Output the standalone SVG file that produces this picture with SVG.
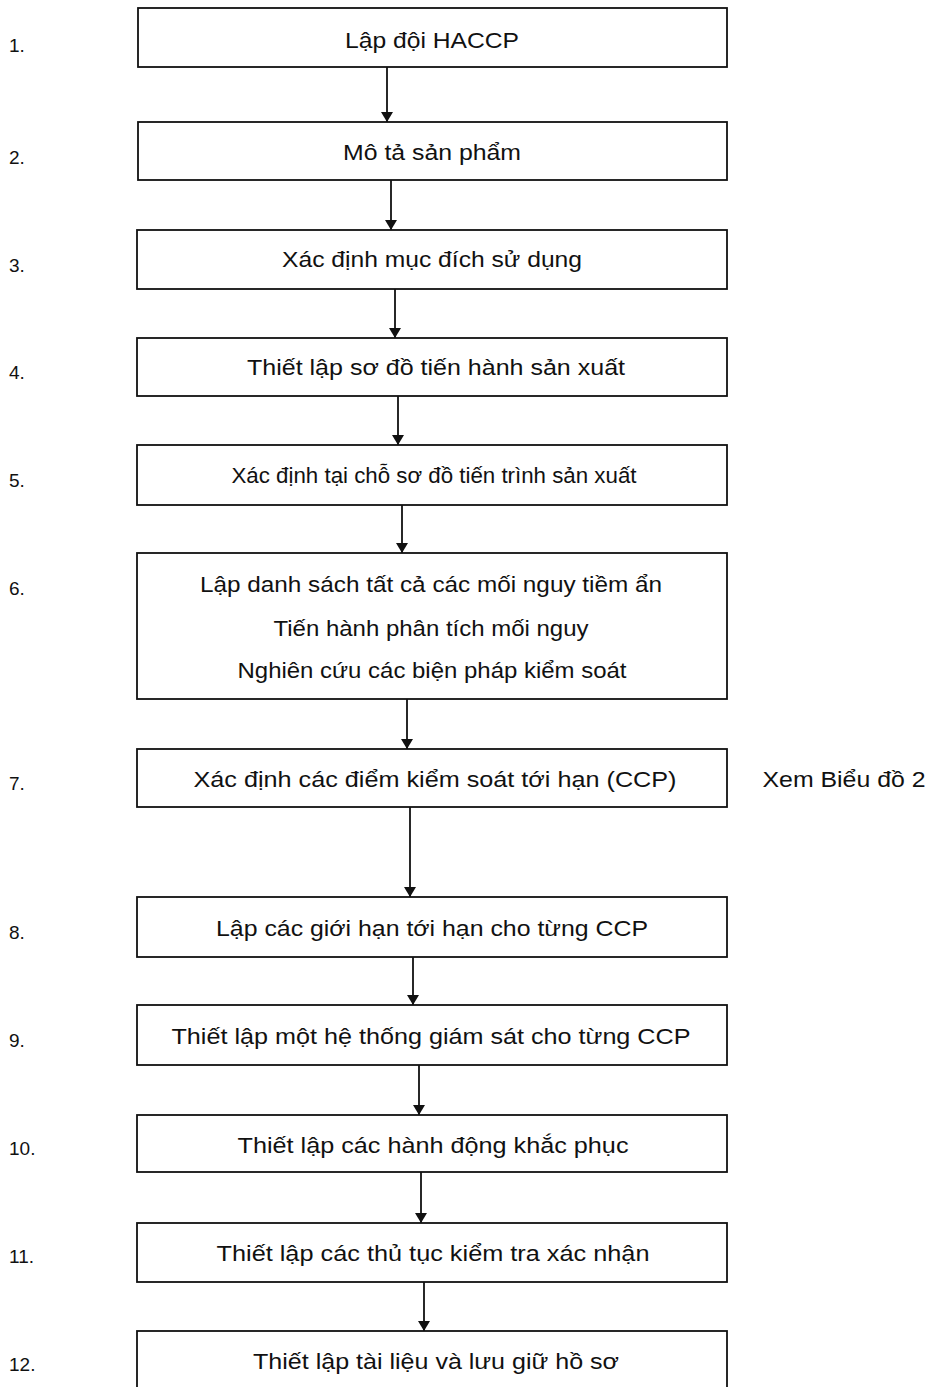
<svg xmlns="http://www.w3.org/2000/svg" width="930" height="1387" viewBox="0 0 930 1387">
<style>
.box{fill:#fff;stroke:#111;stroke-width:1.8}
.t{font-family:"Liberation Sans",Arial,sans-serif;font-size:22px;fill:#111;text-anchor:middle;dominant-baseline:central}
.n{font-family:"Liberation Sans",Arial,sans-serif;font-size:19px;fill:#111;dominant-baseline:central}
.c{stroke:#111;stroke-width:1.8;fill:none;marker-end:url(#ah)}
</style>
<defs>
<marker id="ah" viewBox="0 0 10 12" refX="10" refY="6" markerWidth="13" markerHeight="12" markerUnits="userSpaceOnUse" orient="auto">
<path d="M0,0 L10,6 L0,12 z" fill="#111"/>
</marker>
</defs>
<rect width="930" height="1387" fill="#fff"/>
<g id="numbers">
<text class="n" x="9" y="45">1.</text>
<text class="n" x="9" y="157">2.</text>
<text class="n" x="9" y="265">3.</text>
<text class="n" x="9" y="372">4.</text>
<text class="n" x="9" y="480">5.</text>
<text class="n" x="9" y="588">6.</text>
<text class="n" x="9" y="783">7.</text>
<text class="n" x="9" y="932">8.</text>
<text class="n" x="9" y="1040">9.</text>
<text class="n" x="9" y="1148">10.</text>
<text class="n" x="9" y="1256">11.</text>
<text class="n" x="9" y="1364">12.</text>
</g>
<g id="connectors">
<line class="c" x1="387" y1="67" x2="387" y2="122"/>
<line class="c" x1="391" y1="180" x2="391" y2="230"/>
<line class="c" x1="395" y1="289" x2="395" y2="338"/>
<line class="c" x1="398" y1="396" x2="398" y2="445"/>
<line class="c" x1="402" y1="505" x2="402" y2="553"/>
<line class="c" x1="407" y1="699" x2="407" y2="749"/>
<line class="c" x1="410" y1="807" x2="410" y2="897"/>
<line class="c" x1="413" y1="957" x2="413" y2="1005"/>
<line class="c" x1="419" y1="1065" x2="419" y2="1115"/>
<line class="c" x1="421" y1="1172" x2="421" y2="1223"/>
<line class="c" x1="424" y1="1282" x2="424" y2="1331"/>
</g>
<g id="n1"><rect class="box" x="138" y="8" width="589" height="59"/><text class="t" x="432" y="40" textLength="174" lengthAdjust="spacingAndGlyphs">Lập đội HACCP</text></g>
<g id="n2"><rect class="box" x="138" y="122" width="589" height="58"/><text class="t" x="432" y="152" textLength="178" lengthAdjust="spacingAndGlyphs">Mô tả sản phẩm</text></g>
<g id="n3"><rect class="box" x="137" y="230" width="590" height="59"/><text class="t" x="432" y="259" textLength="300" lengthAdjust="spacingAndGlyphs">Xác định mục đích sử dụng</text></g>
<g id="n4"><rect class="box" x="137" y="338" width="590" height="58"/><text class="t" x="436" y="367" textLength="378" lengthAdjust="spacingAndGlyphs">Thiết lập sơ đồ tiến hành sản xuất</text></g>
<g id="n5"><rect class="box" x="137" y="445" width="590" height="60"/><text class="t" x="434" y="475" textLength="405" lengthAdjust="spacingAndGlyphs">Xác định tại chỗ sơ đồ tiến trình sản xuất</text></g>
<g id="n6"><rect class="box" x="137" y="553" width="590" height="146"/>
<text class="t" x="431" y="584" textLength="462" lengthAdjust="spacingAndGlyphs">Lập danh sách tất cả các mối nguy tiềm ẩn</text>
<text class="t" x="431" y="628" textLength="315" lengthAdjust="spacingAndGlyphs">Tiến hành phân tích mối nguy</text>
<text class="t" x="432" y="670" textLength="389" lengthAdjust="spacingAndGlyphs">Nghiên cứu các biện pháp kiểm soát</text></g>
<g id="n7"><rect class="box" x="137" y="749" width="590" height="58"/><text class="t" x="435" y="779" textLength="483" lengthAdjust="spacingAndGlyphs">Xác định các điểm kiểm soát tới hạn (CCP)</text></g>
<g id="note"><text class="t" x="844" y="779" textLength="163" lengthAdjust="spacingAndGlyphs">Xem Biểu đồ 2</text></g>
<g id="n8"><rect class="box" x="137" y="897" width="590" height="60"/><text class="t" x="432" y="928" textLength="432" lengthAdjust="spacingAndGlyphs">Lập các giới hạn tới hạn cho từng CCP</text></g>
<g id="n9"><rect class="box" x="137" y="1005" width="590" height="60"/><text class="t" x="431" y="1036" textLength="519" lengthAdjust="spacingAndGlyphs">Thiết lập một hệ thống giám sát cho từng CCP</text></g>
<g id="n10"><rect class="box" x="137" y="1115" width="590" height="57"/><text class="t" x="433" y="1145" textLength="391" lengthAdjust="spacingAndGlyphs">Thiết lập các hành động khắc phục</text></g>
<g id="n11"><rect class="box" x="137" y="1223" width="590" height="59"/><text class="t" x="433" y="1253" textLength="433" lengthAdjust="spacingAndGlyphs">Thiết lập các thủ tục kiểm tra xác nhận</text></g>
<g id="n12"><rect class="box" x="137" y="1331" width="590" height="64"/><text class="t" x="436" y="1361" textLength="366" lengthAdjust="spacingAndGlyphs">Thiết lập tài liệu và lưu giữ hồ sơ</text></g>
</svg>
